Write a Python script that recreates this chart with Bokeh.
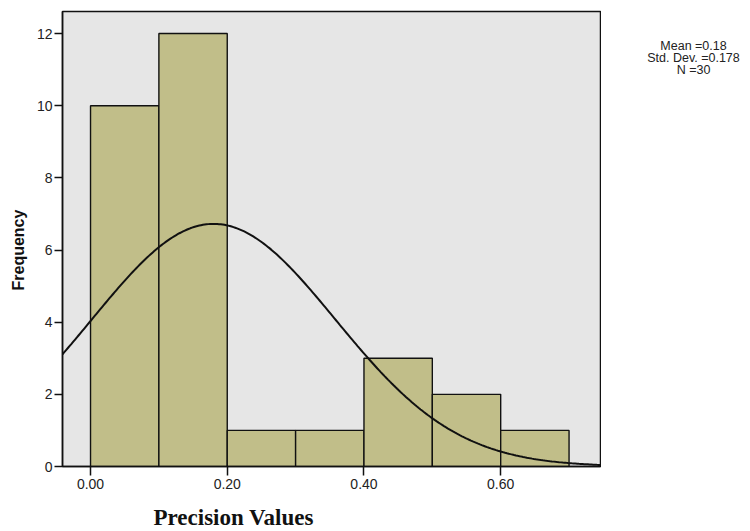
import math
import numpy as np
from bokeh.plotting import figure
from bokeh.layouts import row
from bokeh.models import Range1d, FixedTicker, NumeralTickFormatter, Title, ColumnDataSource
from bokeh.core.properties import value
from bokeh.embed import file_html
from bokeh.resources import INLINE

# Histogram data
bin_left = [0.0, 0.1, 0.2, 0.3, 0.4, 0.5, 0.6]
bin_right = [0.1, 0.2, 0.3, 0.4, 0.5, 0.6, 0.7]
counts = [10, 12, 1, 1, 3, 2, 1]
x_ticks = [0.0, 0.2, 0.4, 0.6]
y_ticks = [0, 2, 4, 6, 8, 10, 12]

# Normal-curve parameters shown in the chart
mean = 0.18
std_dev = 0.178
n_obs = 30
bin_width = 0.1
stats = ["Mean =0.18", "Std. Dev. =0.178", "N =30"]

x_lo, x_hi = -0.041, 0.746
y_lo, y_hi = 0.0, 12.61

H = 531
FRAME_TOP, FRAME_BOTTOM = 11, 466
p = figure(width=601, height=H, output_backend="svg", toolbar_location=None,
           x_range=Range1d(x_lo, x_hi), y_range=Range1d(y_lo, y_hi),
           min_border_left=61, min_border_right=1, min_border_top=FRAME_TOP,
           min_border_bottom=H - FRAME_BOTTOM)

p.background_fill_color = "#e6e6e6"
p.border_fill_color = "white"
p.outline_line_color = "#111111"
p.outline_line_width = 1.5
p.xgrid.visible = False
p.ygrid.visible = False

src = ColumnDataSource(dict(left=bin_left, right=bin_right, top=counts, bottom=[0] * len(counts)))
p.quad(left="left", right="right", top="top", bottom="bottom", source=src,
       fill_color="#c1be89", line_color="#111111", line_width=1.4)

# normal fit curve from the stated mean / sd / N
xs = np.linspace(x_lo, x_hi, 300)
ys = n_obs * bin_width / (std_dev * math.sqrt(2 * math.pi)) * np.exp(-0.5 * ((xs - mean) / std_dev) ** 2)
p.line(xs, ys, line_color="#111111", line_width=2)

for ax in (p.xaxis[0], p.yaxis[0]):
    ax.axis_line_color = "#111111"
    ax.axis_line_width = 1.5
    ax.major_tick_line_color = "#111111"
    ax.major_tick_line_width = 1.5
    ax.major_tick_in = 0
    ax.minor_tick_line_color = None
    ax.major_label_text_font = "Liberation Sans"
    ax.major_label_text_font_size = "14px"
    ax.major_label_text_color = "#222222"

p.xaxis[0].ticker = FixedTicker(ticks=x_ticks)
p.xaxis[0].formatter = NumeralTickFormatter(format="0.00")
p.xaxis[0].major_tick_out = 9
p.xaxis[0].major_label_standoff = 3
# small blank spacer between tick labels and the axis title
p.xaxis[0].axis_label = " "
p.xaxis[0].axis_label_text_font_size = "7px"
p.xaxis[0].axis_label_standoff = 0
p.yaxis[0].ticker = FixedTicker(ticks=y_ticks)
p.yaxis[0].major_tick_out = 8
p.yaxis[0].major_label_standoff = 2

p.add_layout(Title(text="Frequency", align="left", offset=176,
                   text_font="Liberation Sans", text_font_style="bold", text_font_size="16px",
                   text_color="#111111", standoff=14), "left")
p.add_layout(Title(text="Precision Values", align="left", offset=91, vertical_align="bottom",
                   text_font="Liberation Serif", text_font_style="bold", text_font_size="23px",
                   text_color="#111111", standoff=2), "below")

# side panel holding the statistics text (its frame is aligned with the main frame)
q = figure(width=149, height=H, output_backend="svg", toolbar_location=None,
           x_range=Range1d(0, 149), y_range=Range1d(FRAME_BOTTOM, FRAME_TOP),
           min_border=0, outline_line_color=None)
q.axis.visible = False
q.grid.visible = False
sx = [92, 92, 92]
sy = [45, 57, 69]
q.text(x=sx, y=sy, text=stats, text_align="center", text_baseline="middle",
       text_font=value("Liberation Sans"), text_font_size="12.5px", text_color="#222222")

layout = row(p, q)
open("out.html", "w").write(file_html(layout, INLINE))
